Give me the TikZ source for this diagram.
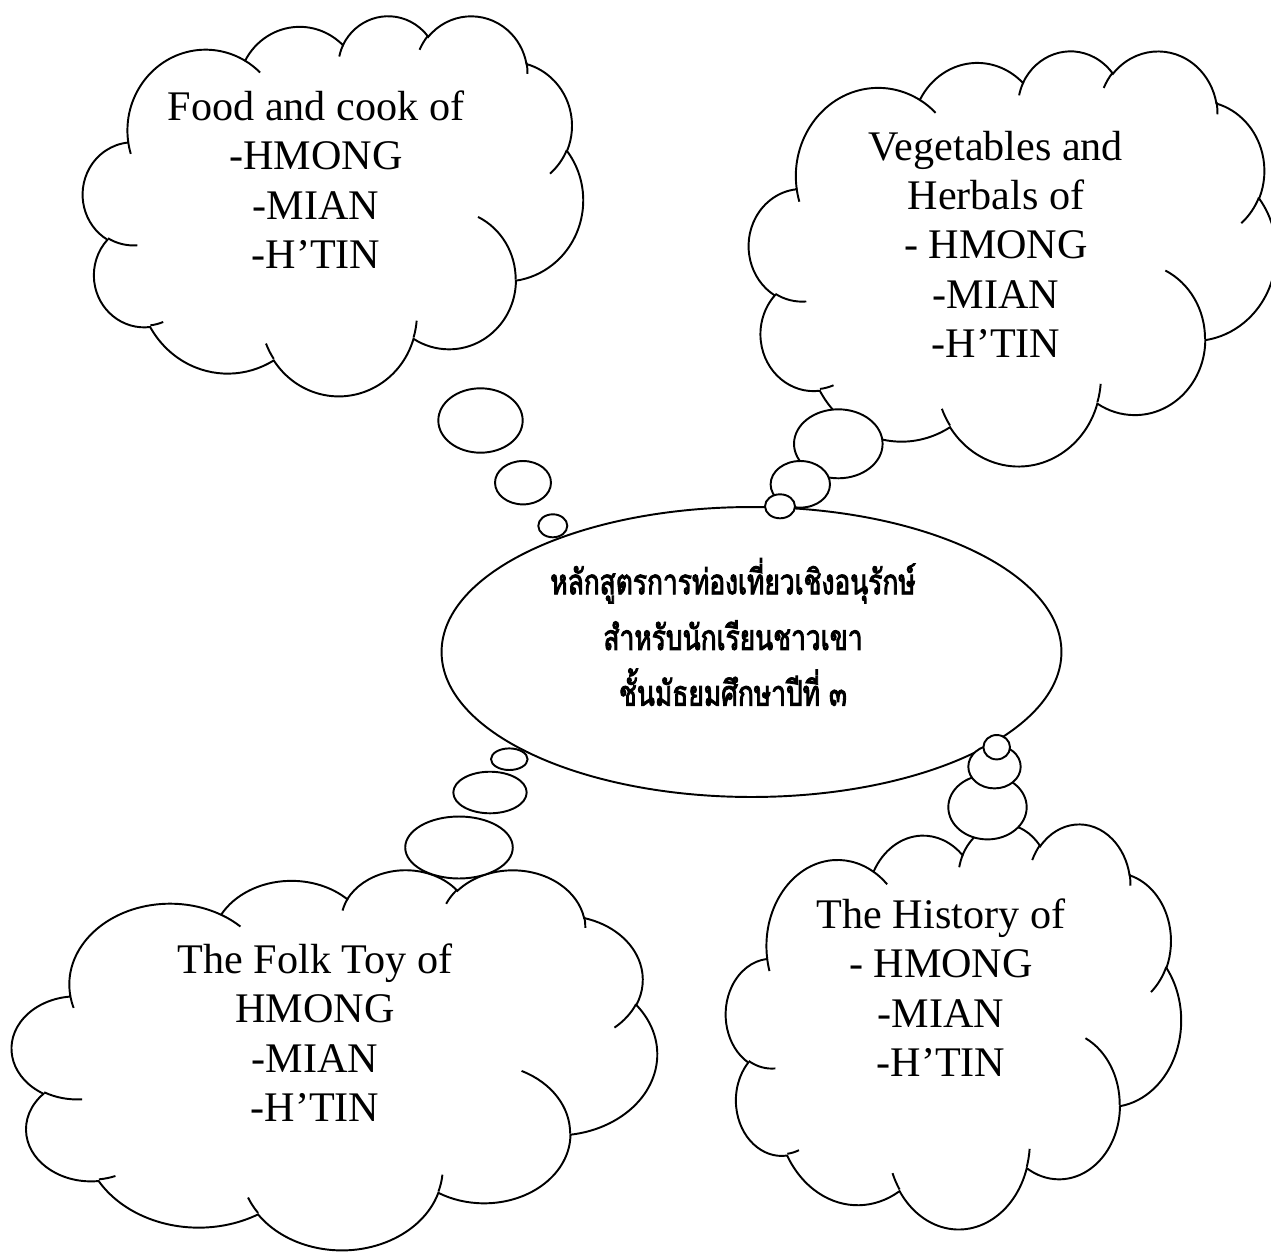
\documentclass[tikz,border=0pt]{standalone}
\usepackage{fontspec}
\setmainfont{Liberation Serif}
\newfontfamily\thaifont[Script=Thai, FakeStretch=0.75, AutoFakeBold=2.5]{Loma}
\usetikzlibrary{shapes.geometric}

\makeatletter
% append an elliptical arc given with "visual" angles (DrawingML style)
\newcommand\cldarc[5]{%
  \pgfmathsetmacro\cld@s{atan2((#2)*sin(#4),(#3)*cos(#4))}%
  \pgfmathsetmacro\cld@e{atan2((#2)*sin((#4)+(#5)),(#3)*cos((#4)+(#5)))}%
  \pgfmathsetmacro\cld@d{\cld@e-(\cld@s)}%
  \pgfmathsetmacro\cld@d{\cld@d+360*round(((#5)-(\cld@d))/360)}%
  \xdef#1{#1 arc[x radius=#2, y radius=#3, start angle=\cld@s, delta angle=\cld@d]}%
}
\newcommand\cldmove[3]{\xdef#1{#1 (#2,#3)}}
\makeatother

% cloud outline in a 43.2 x 43.2 box (y downwards)
\gdef\cloudoutline{}
\cldmove\cloudoutline{3.900}{14.370}
\cldarc\cloudoutline{6.753}{9.190}{-190.4875}{123.7805}
\cldarc\cloudoutline{5.333}{7.267}{-144.1024}{89.9452}
\cldarc\cloudoutline{4.365}{5.945}{-145.8079}{99.7230}
\cldarc\cloudoutline{4.857}{6.595}{-130.9861}{117.2417}
\cldarc\cloudoutline{5.333}{7.273}{-78.7089}{109.0269}
\cldarc\cloudoutline{6.775}{9.220}{-46.2673}{130.2690}
\cldarc\cloudoutline{5.785}{7.867}{0.6250}{114.0333}
\cldarc\cloudoutline{6.752}{9.215}{22.4516}{115.1726}
\cldarc\cloudoutline{7.720}{10.543}{66.2426}{75.7110}
\cldarc\cloudoutline{4.360}{5.918}{-274.9421}{146.7356}
\cldarc\cloudoutline{4.345}{5.945}{-246.8285}{152.5189}
\xdef\cloudoutline{\cloudoutline -- cycle}

% inner crease arcs
\gdef\cloudcreases{}
\cldmove\cloudcreases{4.693}{26.177}
\cldarc\cloudcreases{4.345}{5.945}{86.7420}{26.4295}
\cldmove\cloudcreases{6.928}{34.899}
\cldarc\cloudcreases{4.360}{5.918}{73.6105}{11.4475}
\cldmove\cloudcreases{16.478}{39.090}
\cldarc\cloudcreases{6.752}{9.215}{137.6242}{14.0811}
\cldmove\cloudcreases{28.827}{34.751}
\cldarc\cloudcreases{6.752}{9.215}{6.4533}{15.9984}
\cldmove\cloudcreases{34.129}{22.954}
\cldarc\cloudcreases{5.785}{7.867}{-70.2924}{70.9174}
\cldmove\cloudcreases{41.798}{15.354}
\cldarc\cloudcreases{5.333}{7.273}{30.3180}{27.7515}
\cldmove\cloudcreases{38.324}{5.426}
\cldarc\cloudcreases{4.857}{6.595}{-13.7443}{14.8589}
\cldmove\cloudcreases{29.078}{3.952}
\cldarc\cloudcreases{4.857}{6.595}{-149.1815}{18.1954}
\cldmove\cloudcreases{22.141}{4.720}
\cldarc\cloudcreases{4.365}{5.945}{-163.4943}{17.6864}
\cldmove\cloudcreases{14.000}{5.192}
\cldarc\cloudcreases{6.753}{9.190}{-66.7070}{12.3194}
\cldmove\cloudcreases{4.127}{15.789}
\cldarc\cloudcreases{6.753}{9.190}{157.6544}{11.8582}

\begin{document}
\begin{tikzpicture}[x=0.02cm, y=-0.02cm, line width=1.1pt,
  cloudbox/.style n args={4}{shift={(#1,#2)}, x=1cm, y=1cm,
     xscale=0.02*#3/43.2, yscale=-0.02*#4/43.2},
  bub/.style 2 args={ellipse, draw, fill=white, inner sep=0pt,
     minimum width={#1*0.04cm}, minimum height={#2*0.04cm}},
  lbl/.style={align=center, inner sep=0pt, font=\fontsize{24}{28}\selectfont},
  thai/.style={align=center, inner sep=0pt,
     font=\thaifont\bfseries\fontsize{20}{31.7}\selectfont}]
\useasboundingbox (0,0) rectangle (1271,1251);

% clouds
\begin{scope}[cloudbox={83}{15}{500}{380}]
  \draw[fill=white] \cloudoutline; \draw \cloudcreases;
\end{scope}
\begin{scope}[cloudbox={749}{50}{527}{415}]
  \draw[fill=white] \cloudoutline; \draw \cloudcreases;
\end{scope}
\begin{scope}[cloudbox={12}{869}{645}{380}]
  \draw[fill=white] \cloudoutline; \draw \cloudcreases;
\end{scope}
\begin{scope}[cloudbox={726}{823}{455}{405}]
  \draw[fill=white] \cloudoutline; \draw \cloudcreases;
\end{scope}

% central ellipse
\node[ellipse, draw, inner sep=0pt, minimum width=12.4cm, minimum height=5.8cm] (main) at (751.5,652) {};

% thought bubbles: food
\node[bub={42.2}{32.2}] (fa) at (480.5,420.5) {};
\node[bub={28}{21.7}]   (fb) at (523,482.7) {};
\node[bub={14.5}{11.5}] (fc) at (552.8,525.8) {};
% vegetables
\node[bub={44.3}{34.5}] (va) at (838.3,443.8) {};
\node[bub={29.7}{23.3}] (vb) at (800.3,484.3) {};
\node[bub={15}{12}]     (vc) at (780,506.3) {};
% folk toy
\node[bub={53.8}{31}]   (ta) at (459,847.5) {};
\node[bub={36.7}{20.8}] (tb) at (490,792.5) {};
\node[bub={18.3}{10.8}] (tc) at (509.3,759.2) {};
% history
\node[bub={39.2}{32.2}] (ha) at (987.5,807.2) {};
\node[bub={26.2}{21.7}] (hb) at (994.5,766.7) {};
\node[bub={13.3}{12.2}] (hc) at (996.7,747.2) {};

% texts
\node[lbl] (food) at (316,179.6) {Food and cook of\\-HMONG\\-MIAN\\-H’TIN};
\node[lbl] (veg) at (996,244.3) {Vegetables and\\Herbals of\\- HMONG\\-MIAN\\-H’TIN};
\node[lbl] (toy) at (315,1032.6) {The Folk Toy of\\HMONG\\-MIAN\\-H’TIN};
\node[lbl] (hist) at (941,987.6) {The History of\\- HMONG\\-MIAN\\-H’TIN};
\node[thai] (title) at (733,632) {หลักสูตรการท่องเที่ยวเชิงอนุรักษ์\\สำหรับนักเรียนชาวเขา\\ชั้นมัธยมศึกษาปีที่ ๓};
\end{tikzpicture}
\end{document}
